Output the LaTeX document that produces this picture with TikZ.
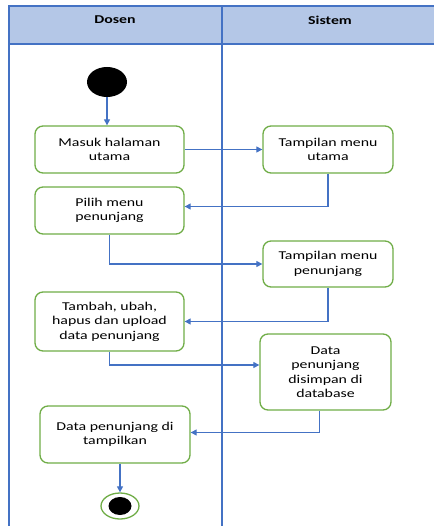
\documentclass[tikz,border=0pt]{standalone}
\usepackage{fontspec}
\setmainfont{Carlito}[FakeStretch=1.32]
\usepackage{tikz}
\usetikzlibrary{positioning,shapes.geometric,arrows.meta}

\definecolor{laneblue}{HTML}{4472C4}
\definecolor{headfill}{HTML}{B4C7E7}
\definecolor{actgreen}{HTML}{70AD47}

\begin{document}
\begin{tikzpicture}[x=1pt,y=-1pt,
  activity/.style={draw=actgreen,line width=1.3pt,rounded corners=8pt,fill=white,
    align=center,inner sep=2pt,font=\fontsize{12}{14.4}\selectfont},
  flow/.style={draw=laneblue,line width=1.1pt,-{Triangle[length=6pt,width=6pt]}},
  lane/.style={draw=laneblue,line width=1.3pt}]
  \useasboundingbox (0,0) rectangle (433,526);

  % swimlane
  \fill[headfill] (9,6) rectangle (434,44);
  \draw[lane] (434,6) -- (9,6) -- (9,527);
  \draw[lane] (9,44) -- (434,44);
  \draw[lane] (222,6) -- (222,527);
  \node[font=\bfseries\fontsize{12}{14.4}\selectfont] (dosen) at (115,20) {Dosen};
  \node[font=\bfseries\fontsize{12}{14.4}\selectfont] (sistem) at (330,20) {Sistem};

  % start / end
  \node[ellipse,fill=black,minimum width=40pt,minimum height=30pt,inner sep=0pt] (start) at (107,82) {};
  \node[ellipse,draw=actgreen,line width=1.3pt,fill=white,minimum width=38pt,minimum height=26pt,inner sep=0pt] (end) at (120,506) {};
  \node[ellipse,fill=black,minimum width=23pt,minimum height=18pt,inner sep=0pt] (endin) at (end) {};

  % activities
  \node[activity,minimum width=149pt,minimum height=47pt] (masuk) at (109.5,149.5) {Masuk halaman\\utama};
  \node[activity,minimum width=130pt,minimum height=47pt] (menuutama) at (328,149.5) {Tampilan menu\\utama};
  \node[activity,minimum width=149pt,minimum height=47pt] (pilih) at (109.5,210.5) {Pilih menu\\penunjang};
  \node[activity,minimum width=130pt,minimum height=46pt] (menupenunjang) at (328,264) {Tampilan menu\\penunjang};
  \node[activity,minimum width=149pt,minimum height=59pt] (tambah) at (109.5,321.5) {Tambah, ubah,\\hapus dan upload\\data penunjang};
  \node[activity,minimum width=131pt,minimum height=76pt] (simpan) at (325.5,372) {Data\\penunjang\\disimpan di\\database};
  \node[activity,minimum width=150pt,minimum height=57pt] (tampil) at (115,434.5) {Data penunjang di\\tampilkan};

  % connectors
  \draw[flow] (start.south) -- (start.south |- masuk.north);
  \draw[flow] (masuk) -- (menuutama);
  \draw[flow] (menuutama.south) |- ([yshift=4pt]pilih.east);
  \draw[flow] (pilih.south) |- (menupenunjang.west);
  \draw[flow] (menupenunjang.south) |- (tambah.east);
  \draw[flow] (tambah.south) |- ([yshift=7pt]simpan.west);
  \draw[flow] ([xshift=-6pt]simpan.south) |- ([yshift=2pt]tampil.east);
  \draw[flow] (tampil.south -| end) -- (end.north);
\end{tikzpicture}
\end{document}
